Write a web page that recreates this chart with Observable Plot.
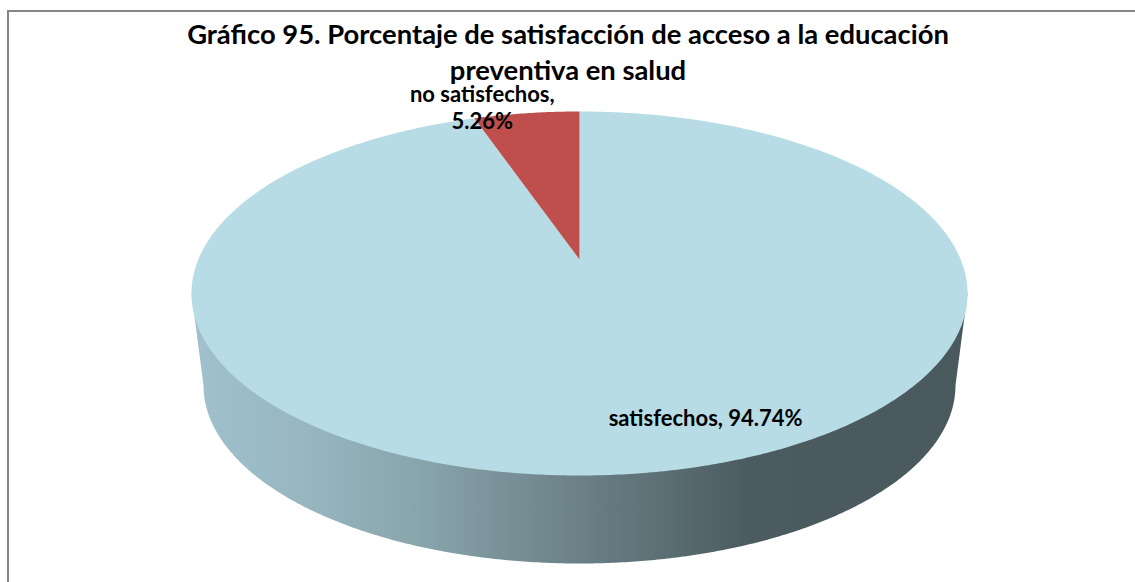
<!DOCTYPE html>
<html lang="es">
<head>
<meta charset="utf-8">
<script src="https://cdn.jsdelivr.net/npm/d3@7"></script>
<script src="https://cdn.jsdelivr.net/npm/@observablehq/plot@0.6"></script>
<style>
  html, body { margin: 0; padding: 0; background: #fff; overflow: hidden; }
  #chart { position: relative; width: 1135px; height: 582px; overflow: hidden; font-family: Lato, sans-serif; }
  #frame { position: absolute; left: 7px; top: 10px; right: -4px; bottom: -4px; border: 2px solid #868686; }
  #title { position: absolute; left: 118px; width: 900px; top: 16px; margin: 0; text-align: center;
           font: 700 27.4px/36px Lato, sans-serif; color: #000; }
  #plot { position: absolute; left: 0; top: 0; }
</style>
</head>
<body>
<div id="chart">
  <div id="frame"></div>
  <h2 id="title">Gráfico 95. Porcentaje de satisfacción de acceso a la educación<br>preventiva en salud</h2>
  <div id="plot"></div>
</div>
<script>
const categories = ["no satisfechos", "satisfechos"];
const values = [5.26, 94.74];
const colors = ["#BE4F4D", "#B7DCE5"];
const labels = ["no satisfechos,\n5.26%", "satisfechos, 94.74%"];

// Perspective of the tilted disc: far side compressed, hub above the ellipse centre
const P = 0.1868, HUB = 34 / 182, XS = 381.2 / 388;
const project = (theta) => {
  const u = Math.sin(theta), v = Math.cos(theta), w = 1 + P * v;
  return {x: XS * u / w, y: (v + HUB) / w};
};
const hub = {x: 0, y: HUB};

// Slices start at 12 o'clock, going anticlockwise for the red one
const total = d3.sum(values);
const redEnd = (values[0] / total) * 2 * Math.PI;
const arc = (a, b, n) => d3.range(n + 1).map((i) => project(a + ((b - a) * i) / n));
const redSlice = [hub, ...arc(-redEnd, 0, 40), hub];
const blueSlice = [hub, ...arc(0, 2 * Math.PI - redEnd, 720), hub];

// Wall: lower rim of the disc, slightly smaller and shifted down
const LOW_X = 0.969, LOW_Y = 0.978, DROP = 92 / 182;
const wall = d3.range(0, 361).map((i) => {
  const t = (i / 360) * Math.PI;
  return {x: -Math.cos(t) * LOW_X, y: -Math.sin(t) * LOW_Y - DROP};
});
const side = [{x: -1, y: 0}, ...wall, {x: 1, y: 0}];

const gradient = () => {
  const svg = d3.create("svg:g");
  const g = svg.append("defs").append("linearGradient").attr("id", "wallShade");
  [[0, "#A0C1CD"], [0.15, "#97B6C0"], [0.3, "#88A4AB"], [0.45, "#72898F"], [0.6, "#5C7076"], [0.72, "#4B5B60"], [1, "#4A595E"]]
    .forEach(([o, c]) => g.append("stop").attr("offset", o).attr("stop-color", c));
  return svg.node();
};

const chart = Plot.plot({
  width: 1135,
  height: 582,
  margin: 0,
  style: {background: "transparent"},
  x: {axis: null, domain: [-1, 1], range: [191, 967]},
  y: {axis: null, domain: [-1, 1], range: [475, 111]},
  marks: [
    gradient,
    Plot.line(side, {x: "x", y: "y", fill: "url(#wallShade)", stroke: "none"}),
    Plot.line(blueSlice, {x: "x", y: "y", fill: colors[1], stroke: "none", title: () => categories[1]}),
    Plot.line(redSlice, {x: "x", y: "y", fill: colors[0], stroke: "none", title: () => categories[0]}),
    Plot.text([labels[0]], {x: [-0.2505], y: [1.027], text: (d) => d, fontFamily: "Lato, sans-serif", fontWeight: 700, fontSize: 22, lineHeight: 1.27, fill: "#000"}),
    Plot.text([labels[1]], {x: [0.325], y: [-0.687], text: (d) => d, fontFamily: "Lato, sans-serif", fontWeight: 700, fontSize: 22, fill: "#000"})
  ]
});
document.getElementById("plot").appendChild(chart);
</script>
</body>
</html>
